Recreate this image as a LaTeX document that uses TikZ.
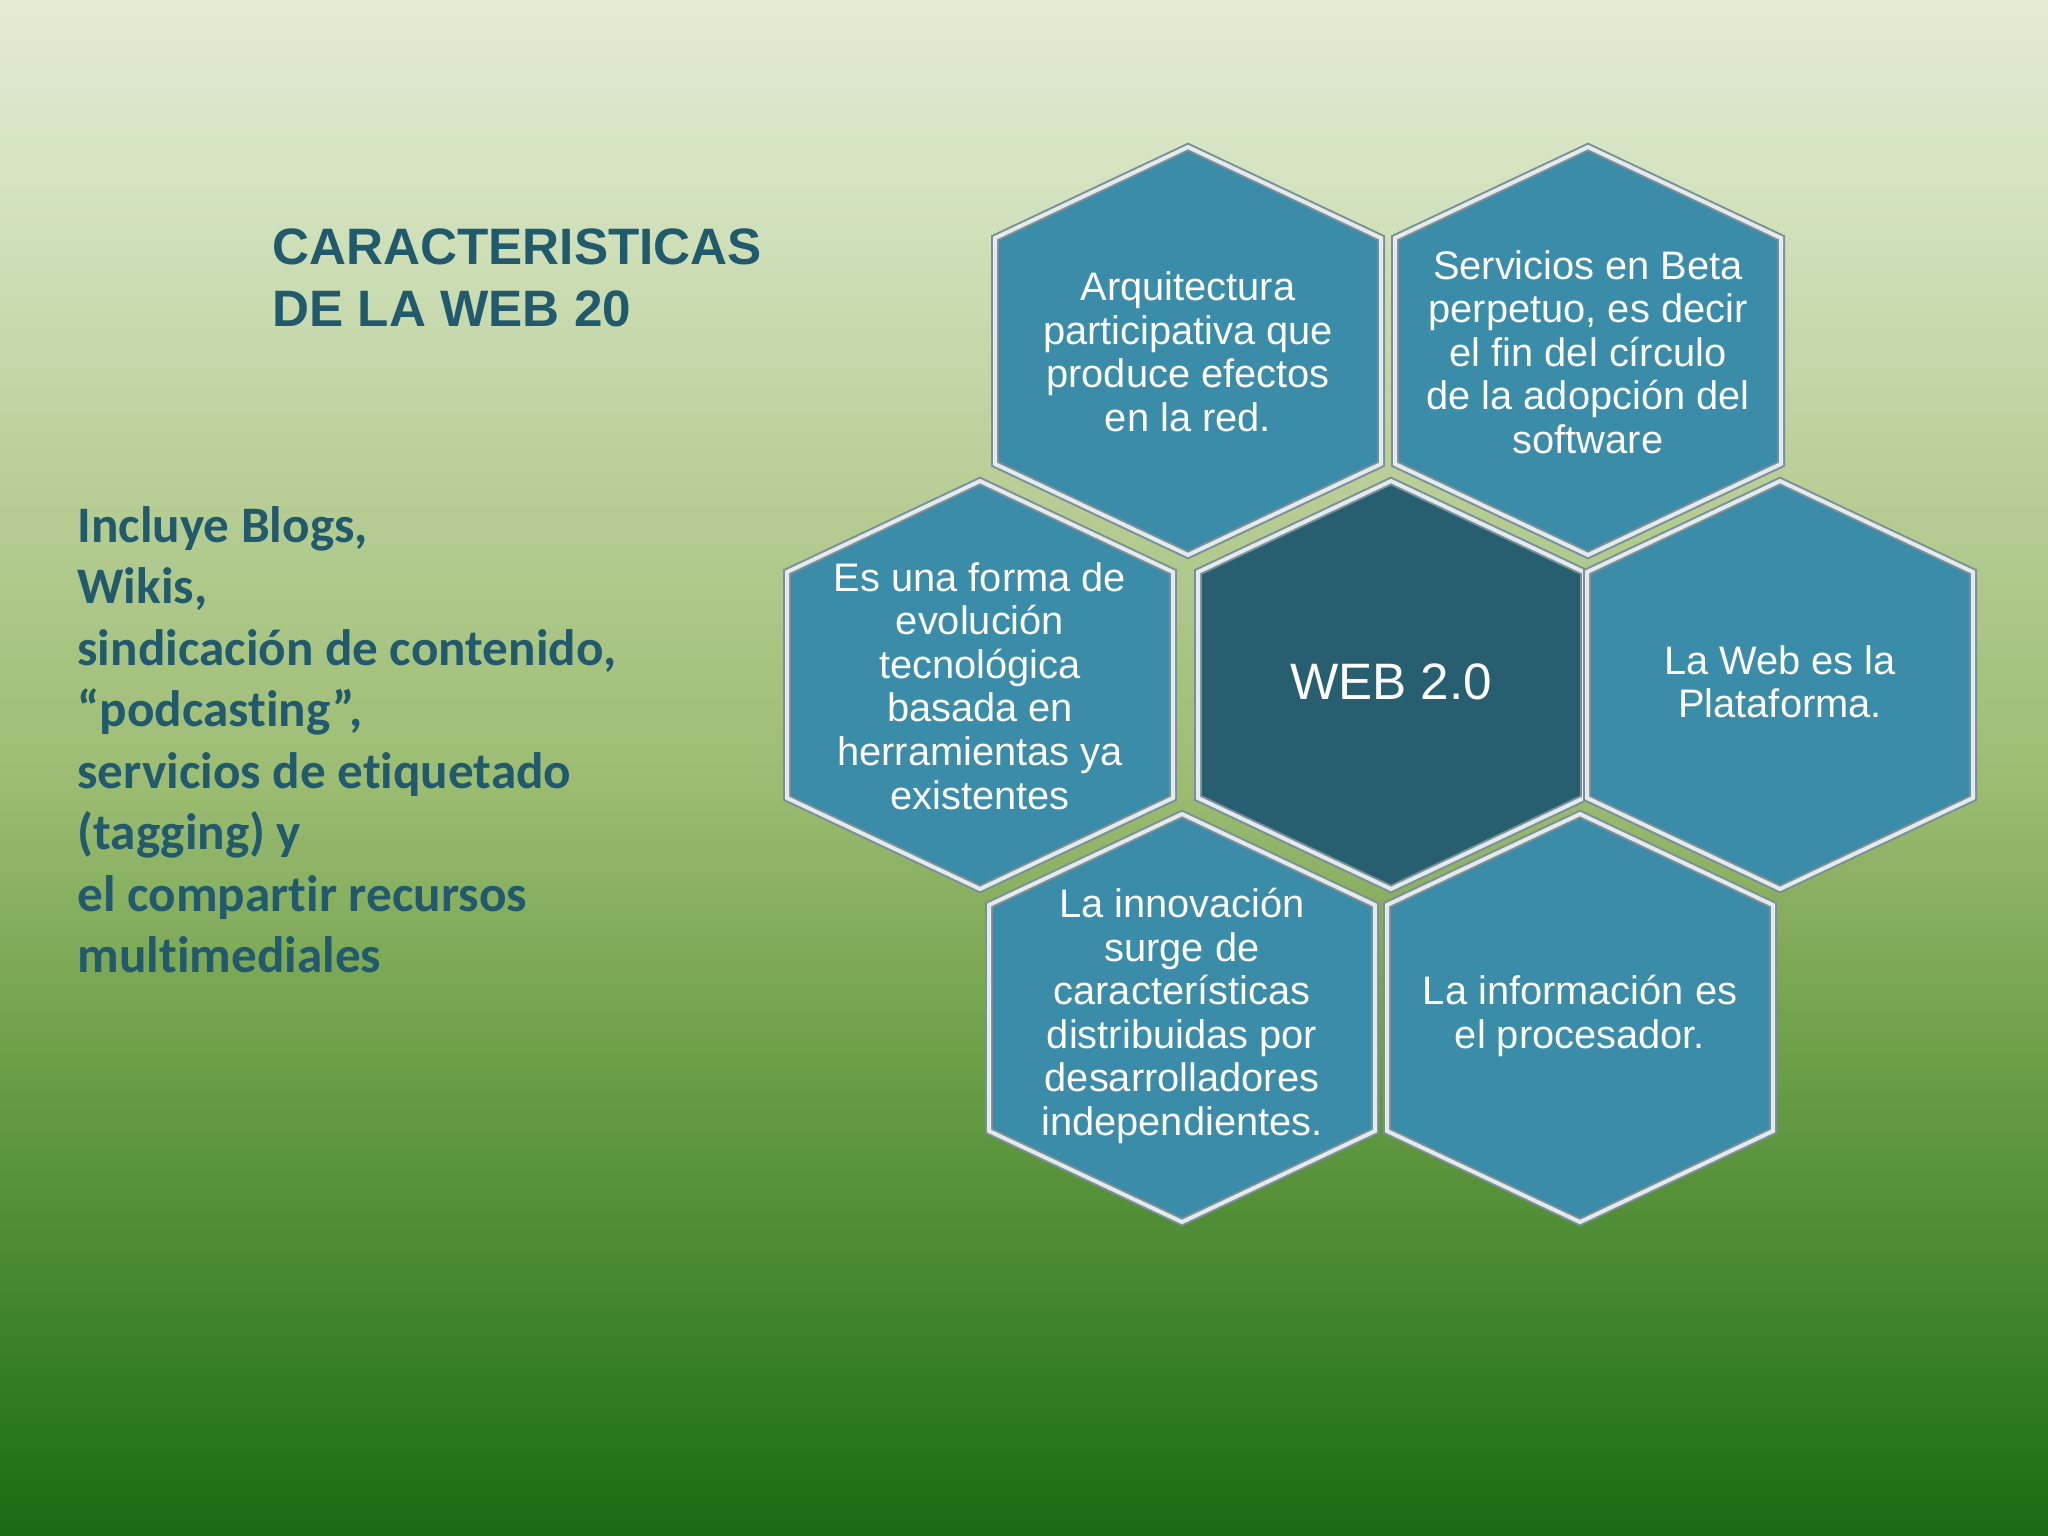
\documentclass[tikz,border=0pt]{standalone}
\usepackage{fontspec}
\setmainfont{Liberation Sans}
\newfontfamily\calibrifont[Ligatures=NoCommon]{Carlito}
\definecolor{hexfill}{HTML}{3A8CA8}
\definecolor{hexcenter}{HTML}{275F71}
\definecolor{titlecol}{HTML}{215A6C}
\definecolor{rimlight}{HTML}{E2EBEE}
\definecolor{rimdark}{HTML}{7D8E96}
\definecolor{bga}{HTML}{E4EBD4}
\definecolor{bgb}{HTML}{D3E2BE}
\definecolor{bgc}{HTML}{B4CC92}
\definecolor{bgd}{HTML}{9CBC72}
\definecolor{bge}{HTML}{6FA04A}
\definecolor{bgf}{HTML}{4C8C33}
\definecolor{bgg}{HTML}{2A761D}
\definecolor{bgh}{HTML}{1C6914}
\pgfdeclareverticalshading{bgshade}{100bp}{color(0bp)=(bgh); color(25bp)=(bgh); color(28.2bp)=(bgg); color(34.5bp)=(bgf); color(41bp)=(bge); color(49.5bp)=(bgd); color(58bp)=(bgc); color(68.5bp)=(bgb); color(75bp)=(bga); color(100bp)=(bga)}
\tikzset{
  pics/hexcell/.style={code={
    \fill[#1] (0,-204) -- (193,-113) -- (193,113) -- (0,204) -- (-193,113) -- (-193,-113) -- cycle;
    \draw[rimdark, line width=2.8pt, line join=miter] (0,-204) -- (193,-113) -- (193,113) -- (0,204) -- (-193,113) -- (-193,-113) -- cycle;
    \draw[rimlight, line width=1.4pt, line join=miter] (0,-204) -- (193,-113) -- (193,113) -- (0,204) -- (-193,113) -- (-193,-113) -- cycle;
  }},
  hextext/.style={text=white, align=center, inner sep=0pt, font=\fontsize{14}{15.3}\selectfont},
  titletext/.style={text=titlecol, align=left, inner sep=0pt, font=\fontsize{18}{22}\selectfont\bfseries},
  listtext/.style={text=titlecol, align=left, inner sep=0pt, font=\calibrifont\fontsize{18}{21.6}\selectfont\bfseries},
}
\begin{document}
\begin{tikzpicture}[x=0.3515625pt, y=-0.3515625pt]
\useasboundingbox (0,0) rectangle (2048,1536);
\shade[shading=bgshade] (0,0) rectangle (2048,1536);

\pic at (1188,351) {hexcell=hexfill};
\pic at (1588,351) {hexcell=hexfill};
\pic at (980,685) {hexcell=hexfill};
\pic at (1391,685) {hexcell=hexcenter};
\pic at (1780,685) {hexcell=hexfill};
\pic at (1182,1018) {hexcell=hexfill};
\pic at (1580,1018) {hexcell=hexfill};

\node[hextext] (arq) at (1188,352) {Arquitectura\\participativa que\\produce efectos\\en la red.};
\node[hextext] (serv) at (1588,352) {Servicios en Beta\\perpetuo, es decir\\el fin del círculo\\de la adopción del\\software};
\node[hextext] (evo) at (980,686) {Es una forma de\\evolución\\tecnológica\\basada en\\herramientas ya\\existentes};
\node[hextext, font=\fontsize{18}{21}\selectfont] (web) at (1391,682) {WEB 2.0};
\node[hextext] (plat) at (1780,682) {La Web es la\\Plataforma.};
\node[hextext] (innov) at (1182,1016) {La innovación\\surge de\\características\\distribuidas por\\desarrolladores\\independientes.};
\node[hextext] (info) at (1580,1016) {La información es\\el procesador.};

\node[titletext, anchor=north west] (title) at (272,228) {CARACTERISTICAS\\DE LA WEB 20};
\node[listtext, anchor=north west] (list) at (77,506) {Incluye Blogs,\\Wikis,\\sindicación de contenido,\\“podcasting”,\\servicios de etiquetado\\(tagging) y\\el compartir recursos\\multimediales};
\end{tikzpicture}
\end{document}
